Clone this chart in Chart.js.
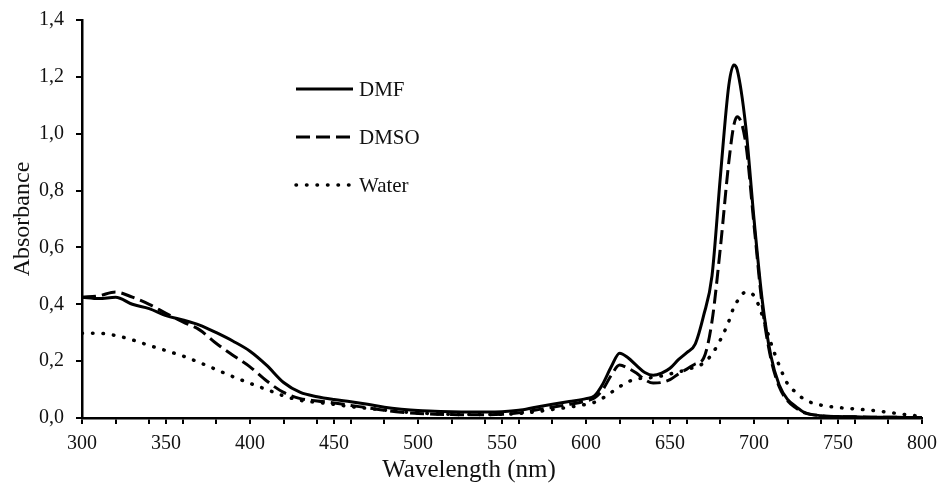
<!DOCTYPE html>
<html>
<head>
<meta charset="utf-8">
<script src="https://cdn.jsdelivr.net/npm/chart.js@4.4.0/dist/chart.umd.min.js"></script>
<style>
  html, body { margin: 0; padding: 0; background: #fff; }
  #wrap { width: 939px; height: 486px; }
</style>
</head>
<body>
<div id="wrap"><canvas id="espectro" width="939" height="486"></canvas></div>
<script>
// datos
var longitudes = [300,310,320,330,340,350,360,370,380,390,400,410,420,430,440,450,460,470,480,490,
  500,510,520,530,540,550,560,570,580,590,600,605,610,615,620,625,630,635,640,645,650,655,660,665,
  670,675,680,685,688,690,695,700,705,710,715,720,725,730,740,750,760,770,780,790,800];

var dmf = [0.425,0.42,0.425,0.40,0.385,0.36,0.345,0.327,0.30,0.27,0.235,0.185,0.125,0.09,0.075,0.065,0.057,0.048,0.038,0.031,
  0.026,0.024,0.022,0.021,0.021,0.022,0.027,0.038,0.048,0.058,0.068,0.078,0.12,0.18,0.228,0.212,0.185,0.16,0.15,0.158,0.175,0.205,0.23,0.26,
  0.36,0.50,0.85,1.17,1.242,1.225,1.03,0.70,0.41,0.22,0.116,0.065,0.04,0.02,0.008,0.005,0.004,0.003,0.003,0.002,0.002];

var dmso = [0.425,0.43,0.443,0.425,0.40,0.368,0.338,0.31,0.262,0.22,0.18,0.13,0.09,0.068,0.06,0.053,0.044,0.036,0.027,0.02,
  0.016,0.013,0.012,0.011,0.011,0.013,0.018,0.028,0.038,0.048,0.06,0.07,0.10,0.15,0.186,0.175,0.158,0.135,0.123,0.125,0.135,0.155,0.172,0.19,
  0.21,0.34,0.60,0.90,1.03,1.06,0.97,0.68,0.39,0.21,0.11,0.06,0.035,0.018,0.008,0.005,0.004,0.003,0.003,0.002,0.002];

var agua = [0.298,0.298,0.29,0.275,0.255,0.237,0.218,0.195,0.17,0.145,0.122,0.10,0.078,0.062,0.055,0.048,0.04,0.034,0.028,0.022,
  0.018,0.015,0.013,0.012,0.012,0.013,0.016,0.022,0.03,0.038,0.048,0.055,0.07,0.09,0.11,0.127,0.138,0.14,0.143,0.148,0.155,0.162,0.17,0.18,
  0.193,0.225,0.275,0.34,0.39,0.41,0.443,0.43,0.36,0.265,0.185,0.12,0.09,0.065,0.045,0.037,0.032,0.027,0.02,0.012,0.006];

var etiquetas = ['DMF', 'DMSO', 'Water'];
var ticksX = [300,320,340,350,360,380,400,420,440,450,460,480,500,520,540,550,560,580,600,620,640,650,660,680,700,720,740,750,760,780,800];
var tituloX = 'Wavelength (nm)';
var tituloY = 'Absorbance';

var fuente = "'Liberation Serif', 'DejaVu Serif', serif";

function puntos(valores){
  var res = [];
  for (var i = 0; i < longitudes.length; i++) {
    res.push({x: longitudes[i], y: valores[i]});
  }
  return res;
}

// leyenda dentro del grafico + titulo del eje x (corrido a la izquierda como en el original)
var extras = {
  id: 'extras',
  afterDraw: function(chart){
    var ctx = chart.ctx;
    var x0 = 296, x1 = 353, ytop = 89, paso = 48;
    chart.data.datasets.forEach(function(ds, i){
      var y = ytop + i * paso;
      ctx.save();
      ctx.strokeStyle = ds.borderColor;
      ctx.lineWidth = ds.borderWidth;
      ctx.lineCap = ds.borderCapStyle || 'butt';
      ctx.setLineDash(ds.borderDash || []);
      ctx.beginPath();
      ctx.moveTo(x0, y);
      ctx.lineTo(x1, y);
      ctx.stroke();
      ctx.setLineDash([]);
      ctx.fillStyle = '#111';
      ctx.font = '21px ' + fuente;
      ctx.textBaseline = 'middle';
      ctx.fillText(ds.label, 359, y + 1);
      ctx.restore();
    });
    ctx.save();
    ctx.fillStyle = '#111';
    ctx.font = '25px ' + fuente;
    ctx.textAlign = 'center';
    ctx.textBaseline = 'middle';
    ctx.fillText(tituloX, 469, 470);
    ctx.restore();
  }
};

var ctx = document.getElementById('espectro').getContext('2d');
var grafico = new Chart(ctx, {
  type: 'line',
  data: {
    datasets: [{
      label: etiquetas[0],
      data: puntos(dmf),
      borderColor: '#000',
      borderWidth: 3,
      pointRadius: 0,
      cubicInterpolationMode: 'monotone',
      fill: false
    }, {
      label: etiquetas[1],
      data: puntos(dmso),
      borderColor: '#000',
      borderWidth: 3,
      borderDash: [14, 6],
      pointRadius: 0,
      cubicInterpolationMode: 'monotone',
      fill: false
    }, {
      label: etiquetas[2],
      data: puntos(agua),
      borderColor: '#000',
      borderWidth: 3.5,
      borderDash: [0.5, 10],
      borderCapStyle: 'round',
      pointRadius: 0,
      cubicInterpolationMode: 'monotone',
      fill: false
    }]
  },
  options: {
    responsive: false,
    animation: false,
    layout: { padding: { top: 20, right: 17, left: 0, bottom: 0 } },
    plugins: {
      legend: { display: false },
      tooltip: { enabled: false }
    },
    scales: {
      x: {
        type: 'linear',
        min: 300,
        max: 800,
        afterBuildTicks: function(scale){
          scale.ticks = ticksX.map(function(v){ return {value: v}; });
        },
        afterFit: function(scale){
          scale.height = 68;
          scale.paddingLeft = 0;
          scale.paddingRight = 0;
        },
        ticks: {
          autoSkip: false,
          maxRotation: 0,
          padding: 8,
          color: '#111',
          font: { family: fuente, size: 20 },
          callback: function(v){ return v % 50 === 0 ? String(v) : ''; }
        },
        grid: { drawOnChartArea: false, drawTicks: true, tickLength: 6, color: '#000', lineWidth: 2 },
        border: { color: '#000', width: 2.5 },
        title: { display: false }
      },
      y: {
        min: 0,
        max: 1.4,
        afterFit: function(scale){
          scale.width = 82;
          scale.paddingTop = 0;
          scale.paddingBottom = 0;
        },
        ticks: {
          stepSize: 0.2,
          padding: 12,
          color: '#111',
          font: { family: fuente, size: 20 },
          callback: function(v){ return v.toFixed(1).replace('.', ','); }
        },
        grid: { drawOnChartArea: false, drawTicks: true, tickLength: 6, color: '#000', lineWidth: 2 },
        border: { color: '#000', width: 2.5 },
        title: {
          display: true,
          text: tituloY,
          color: '#111',
          font: { family: fuente, size: 24 },
          padding: { top: 8, bottom: 4 }
        }
      }
    }
  },
  plugins: [extras]
});
</script>
</body>
</html>
